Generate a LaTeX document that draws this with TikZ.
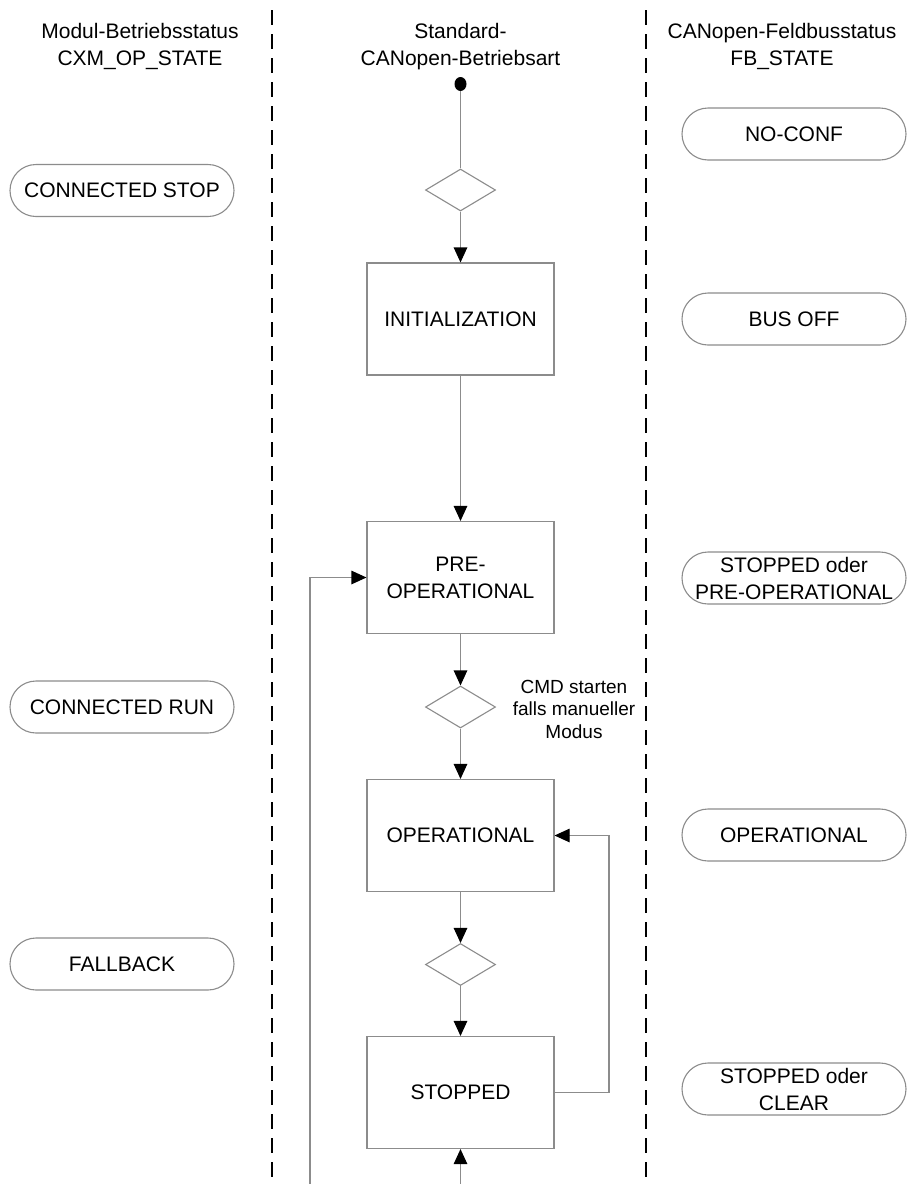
\documentclass[tikz,border=0pt]{standalone}
\usepackage{fontspec}
\setmainfont{Liberation Sans}
\usetikzlibrary{arrows.meta,shapes.geometric}
\definecolor{linegray}{RGB}{140,140,140}
\tikzset{
  every node/.style={font=\fontsize{21}{27}\selectfont, inner sep=0pt},
  statebox/.style={draw=linegray, line width=1.1pt, fill=white, minimum width=187pt, minimum height=112pt, align=center},
  pill/.style={draw=linegray, line width=1.1pt, rounded corners=26pt, minimum width=224pt, minimum height=52pt, align=center},
  decision/.style={draw=linegray, line width=1.1pt, diamond, minimum width=70pt, minimum height=42pt, inner sep=0pt},
  conn/.style={draw=linegray, line width=1.1pt},
  arr/.style={conn, -{Triangle[length=15pt,width=13.5pt,color=black]}},
  lane/.style={line width=2.4pt, dash pattern=on 15pt off 9pt},
  header/.style={align=center},
  note/.style={align=center, font=\fontsize{19}{22.5}\selectfont}
}
\begin{document}
\begin{tikzpicture}[x=1pt,y=-1pt]
\useasboundingbox[fill=white] (0,0) rectangle (906,1184);
% lane separators
\draw[lane] (272,10) -- (272,1184);
\draw[lane] (646,10) -- (646,1184);
% headers
\node[header] (h1) at (140,46.5) {Modul-Betriebsstatus\\CXM\_OP\_STATE};
\node[header] (h2) at (460.5,46.5) {Standard-\\CANopen-Betriebsart};
\node[header] (h3) at (782,46.5) {CANopen-Feldbusstatus\\FB\_STATE};
% center flow
\node[ellipse, fill=black, minimum width=12pt, minimum height=14pt] (start) at (460.5,84) {};
\node[decision] (d1) at (460.5,190) {};
\node[statebox] (init) at (460.5,319) {INITIALIZATION};
\node[statebox] (preop) at (460.5,577.5) {PRE-\\OPERATIONAL};
\node[decision] (d2) at (460.5,707) {};
\node[statebox] (oper) at (460.5,835.5) {OPERATIONAL};
\node[decision] (d3) at (460.5,964.5) {};
\node[statebox] (stopped) at (460.5,1092.5) {STOPPED};
\node[note] (cmd) at (574,709) {CMD starten\\falls manueller\\Modus};
% connectors
\draw[conn] (start) -- (d1);
\draw[arr] (d1) -- (init);
\draw[arr] (init) -- (preop);
\draw[arr] (preop) -- (d2);
\draw[arr] (d2) -- (oper);
\draw[arr] (oper) -- (d3);
\draw[arr] (d3) -- (stopped);
\coordinate (loopbot) at (310,1184);
\coordinate (stopbot) at (460.5,1184);
\draw[arr] (loopbot) |- (preop.west);
\draw[arr] (stopbot) -- (stopped.south);
\coordinate (fbk) at (609,1092.5);
\draw[arr] (stopped.east) -- (fbk) |- (oper.east);
% left pills
\node[pill] (cstop) at (122,190.5) {CONNECTED STOP};
\node[pill] (crun) at (122,707) {CONNECTED RUN};
\node[pill] (fallb) at (122,964) {FALLBACK};
% right pills
\node[pill] (noconf) at (794,134) {NO-CONF};
\node[pill] (busoff) at (794,319) {BUS OFF};
\node[pill] (stpre) at (794,578) {STOPPED oder\\PRE-OPERATIONAL};
\node[pill] (opr) at (794,835) {OPERATIONAL};
\node[pill] (stcl) at (794,1089) {STOPPED oder\\CLEAR};
\end{tikzpicture}
\end{document}
